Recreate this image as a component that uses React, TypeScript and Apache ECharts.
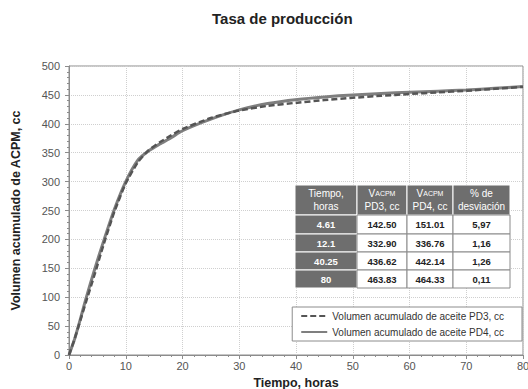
import React, { useEffect, useRef } from "react";
import * as echarts from "echarts";

const time = [0, 0.5, 1, 2, 3, 4.61, 6, 8, 10, 12.1, 14, 16, 18, 20, 25, 30, 35, 40.25, 45, 50, 55, 60, 65, 70, 75, 80];
const pd3 = [0, 14, 28, 60, 92, 142.5, 188, 248, 297, 332.9, 354, 368, 380, 391, 410, 423, 431, 436.62, 441, 445, 448.5, 451.5, 454.5, 457, 460.5, 463.83];
const pd4 = [0, 14, 28, 62, 98, 151.01, 194, 252, 300, 336.76, 353, 365, 376, 388, 408, 424, 435, 442.14, 446.5, 450, 452.5, 454.5, 456.5, 458.5, 461.5, 464.33];

const tableHeaders = ["Tiempo,\nhoras", "{v|V}{s|ACPM}\nPD3, cc", "{v|V}{s|ACPM}\nPD4, cc", "% de\ndesviación"];
const tableTime = ["4.61", "12.1", "40.25", "80"];
const tablePD3 = ["142.50", "332.90", "436.62", "463.83"];
const tablePD4 = ["151.01", "336.76", "442.14", "464.33"];
const tableDev = ["5,97", "1,16", "1,26", "0,11"];

const FONT = "Liberation Sans, Arial, sans-serif";

export default function App() {
  const ref = useRef<HTMLDivElement>(null);
  useEffect(() => {
    if (!ref.current) return;
    document.body.style.margin = "0";
    const chart = echarts.init(ref.current, null, { renderer: "svg" });

    const colX = [295, 357, 407, 453, 510];
    const rowY = [185, 215, 234, 252, 270, 288];
    const dark = "#6e6e6e";
    const elements: any[] = [];
    const rows = [tableHeaders, ...tableTime.map((t, i) => [t, tablePD3[i], tablePD4[i], tableDev[i]])];
    rows.forEach((row, r) => {
      row.forEach((txt, c) => {
        const isDark = r === 0 || c === 0;
        const x = colX[c], y = rowY[r];
        const w = colX[c + 1] - x, h = rowY[r + 1] - y;
        elements.push({
          type: "rect",
          shape: { x, y, width: w, height: h },
          style: { fill: isDark ? dark : "#ffffff", stroke: isDark ? "#ffffff" : "#8a8a8a", lineWidth: 1 },
          z: 100,
        });
        elements.push({
          type: "text",
          x: x + w / 2,
          y: y + h / 2,
          z: 101,
          style: {
            text: txt,
            fill: isDark ? "#ffffff" : "#222222",
            font: `${r === 0 ? "normal 10px" : "bold 9.5px"} ${FONT}`,
            align: "center",
            verticalAlign: "middle",
            lineHeight: 13,
            rich: {
              v: { fontSize: 10, fill: "#ffffff", fontFamily: FONT },
              s: { fontSize: 7, fill: "#ffffff", fontFamily: FONT },
            },
          },
        });
      });
    });

    chart.setOption({
      animation: false,
      backgroundColor: "#ffffff",
      title: {
        text: "Tasa de producción",
        left: 207,
        top: 6,
        textStyle: { fontFamily: FONT, fontSize: 15, fontWeight: "bold", color: "#222" },
      },
      grid: {
        left: 69, right: 5, top: 66, bottom: 34,
        outerBoundsMode: "none",
        containLabel: false,
        show: true, borderColor: "#8c8c8c", borderWidth: 1,
      },
      legend: {
        orient: "vertical",
        right: 6,
        top: 307,
        backgroundColor: "#ffffff",
        borderColor: "#8c8c8c",
        borderWidth: 1,
        borderRadius: 0,
        padding: [4, 18, 4, 8],
        itemGap: 6,
        itemWidth: 26,
        itemHeight: 12,
        itemStyle: { opacity: 0 },
        textStyle: { fontFamily: FONT, fontSize: 10, color: "#333" },
        data: ["Volumen acumulado de aceite PD3, cc", "Volumen acumulado de aceite PD4, cc"],
      },
      xAxis: {
        type: "value",
        min: 0,
        max: 80,
        interval: 10,
        name: "Tiempo, horas",
        nameLocation: "middle",
        nameGap: 14,
        nameTextStyle: { fontFamily: FONT, fontSize: 12.5, fontWeight: "bold", color: "#222", lineHeight: 14 },
        axisLine: { show: true, lineStyle: { color: "#8c8c8c" } },
        axisTick: { show: true, length: 4, lineStyle: { color: "#8c8c8c" } },
        minorTick: { show: true, splitNumber: 5, length: 2, lineStyle: { color: "#8c8c8c" } },
        axisLabel: { fontFamily: FONT, fontSize: 11, color: "#555", margin: 5 },
        splitLine: { show: true, lineStyle: { color: "#cfcfcf", type: "dotted" } },
      },
      yAxis: {
        type: "value",
        min: 0,
        max: 500,
        interval: 50,
        name: "Volumen acumulado de ACPM, cc",
        nameLocation: "middle",
        nameGap: 47,
        nameTextStyle: { fontFamily: FONT, fontSize: 12.5, fontWeight: "bold", color: "#222" },
        axisLine: { show: true, lineStyle: { color: "#8c8c8c" } },
        axisTick: { show: true, length: 4, lineStyle: { color: "#8c8c8c" } },
        minorTick: { show: true, splitNumber: 5, length: 2, lineStyle: { color: "#8c8c8c" } },
        axisLabel: { fontFamily: FONT, fontSize: 11, color: "#555", margin: 9 },
        splitLine: { show: true, lineStyle: { color: "#cfcfcf", type: "dotted" } },
      },
      series: [
        {
          name: "Volumen acumulado de aceite PD4, cc",
          type: "line",
          data: time.map((t, i) => [t, pd4[i]]),
          showSymbol: false,
          symbol: "none",
          smooth: 0.2,
          lineStyle: { color: "#7f7f7f", width: 3, type: "solid" },
          itemStyle: { color: "#7f7f7f" },
          z: 2,
        },
        {
          name: "Volumen acumulado de aceite PD3, cc",
          type: "line",
          data: time.map((t, i) => [t, pd3[i]]),
          showSymbol: false,
          symbol: "none",
          smooth: 0.2,
          lineStyle: { color: "#555555", width: 2.5, type: [6, 3] },
          itemStyle: { color: "#555555" },
          z: 3,
        },
      ],
      graphic: elements,
    });
    return () => chart.dispose();
  }, []);
  return <div ref={ref} style={{ width: 528, height: 389 }} />;
}
